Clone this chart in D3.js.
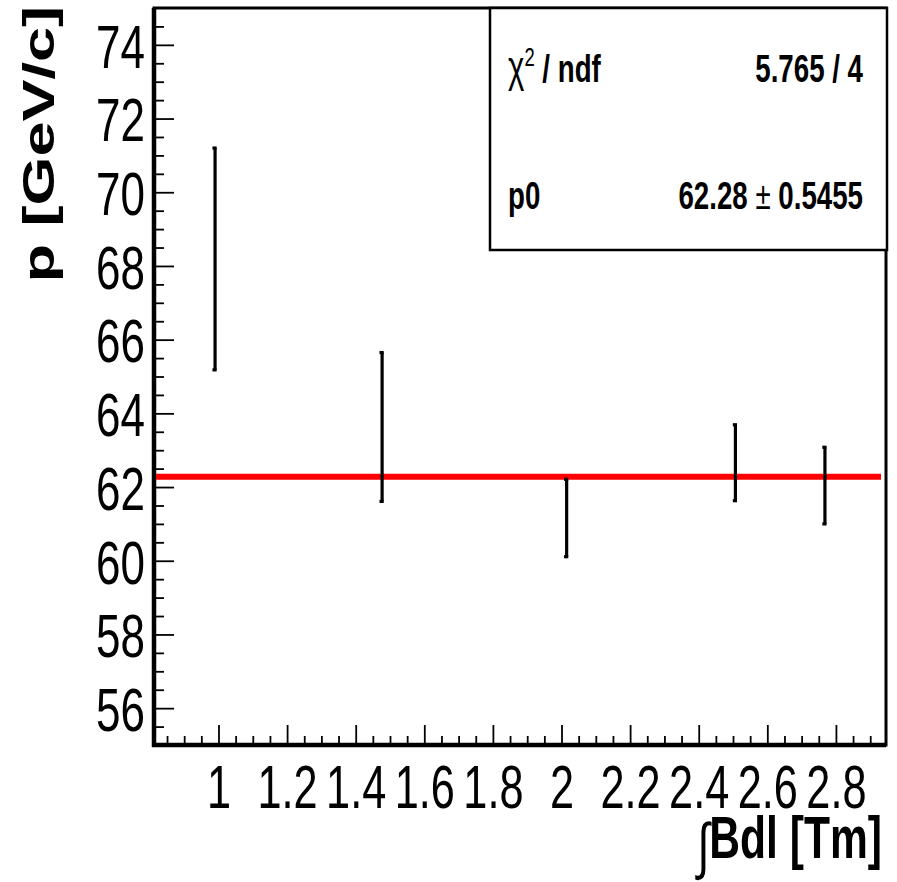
<!DOCTYPE html>
<html>
<head>
<meta charset="utf-8">
<script src="https://cdn.jsdelivr.net/npm/d3@7"></script>
<style>
  body { margin: 0; background: #fff; }
  svg { display: block; font-family: "Liberation Sans", Arial, sans-serif; }
</style>
</head>
<body>
<div id="chart"></div>
<script>
// Measured points: field integral vs reconstructed momentum
const bdlValues = [0.99, 1.477, 2.015, 2.507, 2.768];
const momentumValues = [68.19, 63.63, 61.16, 62.66, 62.04];
const momentumErrors = [3.01, 2.02, 1.05, 1.03, 1.04];

// Constant fit
const fitValue = 62.28;
const fitLabels = ['χ', '2', ' / ndf', '5.765 / 4', 'p0', '62.28 ', '±', ' 0.5455'];

// Axis ticks
const xTickValues = [1, 1.2, 1.4, 1.6, 1.8, 2, 2.2, 2.4, 2.6, 2.8];
const xTickLabels = ['1', '1.2', '1.4', '1.6', '1.8', '2', '2.2', '2.4', '2.6', '2.8'];
const yTickValues = [56, 58, 60, 62, 64, 66, 68, 70, 72, 74];
const yTickLabels = ['56', '58', '60', '62', '64', '66', '68', '70', '72', '74'];

const width = 897, height = 882;
const margin = { top: 8, right: 11, bottom: 137, left: 154 };
const squeeze = 0.71; // text in the picture is narrowed horizontally

const svg = d3.select('#chart')
    .append('svg')
    .attr('width', width)
    .attr('height', height);

const x = d3.scaleLinear()
    .domain([0.812, 2.946])
    .range([margin.left, width - margin.right]);

const y = d3.scaleLinear()
    .domain([55, 75])
    .range([height - margin.bottom, margin.top]);

const plotBottom = height - margin.bottom;

// helper: narrowed text anchored at (px, py)
function label(parent, px, py, extra) {
    return parent.append('text')
        .attr('transform', `translate(${px},${py}) scale(${squeeze},1)` + (extra || ''));
}

// Minor ticks
const xMinor = d3.range(0.85, 2.94, 0.05).filter(v => Math.abs(v * 5 - Math.round(v * 5)) > 1e-6);
const yMinor = d3.range(55.5, 75, 0.5).filter(v => Math.abs(v / 2 - Math.round(v / 2)) > 1e-6);

svg.append('g')
    .attr('transform', `translate(0,${plotBottom})`)
    .call(d3.axisBottom(x).tickValues(xMinor).tickSize(-9).tickFormat(''))
    .call(g => g.select('.domain').remove())
    .selectAll('line').attr('stroke', '#000').attr('stroke-width', 1.8);

svg.append('g')
    .attr('transform', `translate(${margin.left},0)`)
    .call(d3.axisLeft(y).tickValues(yMinor).tickSize(-10).tickFormat(''))
    .call(g => g.select('.domain').remove())
    .selectAll('line').attr('stroke', '#000').attr('stroke-width', 1.8);

// Major ticks
const xAxis = svg.append('g')
    .attr('transform', `translate(0,${plotBottom})`)
    .call(d3.axisBottom(x).tickValues(xTickValues).tickSize(-20).tickFormat((d, i) => xTickLabels[i]))
    .call(g => g.select('.domain').remove());
xAxis.selectAll('line').attr('stroke', '#000').attr('stroke-width', 1.8);
xAxis.selectAll('text')
    .attr('y', 0).attr('dy', 0)
    .attr('transform', `translate(0,63) scale(${squeeze},1)`)
    .attr('font-size', 61)
    .attr('fill', '#000')
    .attr('font-family', '"Liberation Sans", Arial, sans-serif');

const yAxis = svg.append('g')
    .attr('transform', `translate(${margin.left},0)`)
    .call(d3.axisLeft(y).tickValues(yTickValues).tickSize(-20).tickFormat((d, i) => yTickLabels[i]))
    .call(g => g.select('.domain').remove());
yAxis.selectAll('line').attr('stroke', '#000').attr('stroke-width', 1.8);
yAxis.selectAll('text')
    .attr('x', 0).attr('dy', '0.36em')
    .attr('transform', `translate(-9,0) scale(${squeeze},1)`)
    .attr('font-size', 62)
    .attr('fill', '#000')
    .attr('font-family', '"Liberation Sans", Arial, sans-serif');

// Frame
svg.append('rect')
    .attr('x', margin.left)
    .attr('y', margin.top)
    .attr('width', width - margin.left - margin.right)
    .attr('height', plotBottom - margin.top)
    .attr('fill', 'none')
    .attr('stroke', '#000')
    .attr('stroke-width', 3);
svg.append('line')
    .attr('x1', margin.left).attr('x2', margin.left)
    .attr('y1', margin.top).attr('y2', plotBottom + 2)
    .attr('stroke', '#000').attr('stroke-width', 4.5);
svg.append('line')
    .attr('x1', margin.left - 2).attr('x2', width - margin.right)
    .attr('y1', plotBottom).attr('y2', plotBottom)
    .attr('stroke', '#000').attr('stroke-width', 4.5);

// Fit line
svg.append('line')
    .attr('x1', x(0.812) + 2)
    .attr('x2', x(2.946) - 5)
    .attr('y1', y(fitValue))
    .attr('y2', y(fitValue))
    .attr('stroke', '#ff0000')
    .attr('stroke-width', 6);

// Error bars
const points = bdlValues.map((b, i) => ({ b, p: momentumValues[i], e: momentumErrors[i] }));
const bars = svg.append('g');
bars.selectAll('.err')
    .data(points)
    .enter()
    .append('line')
    .attr('class', 'err')
    .attr('x1', d => x(d.b)).attr('x2', d => x(d.b))
    .attr('y1', d => y(d.p + d.e)).attr('y2', d => y(d.p - d.e))
    .attr('stroke', '#000')
    .attr('stroke-width', 3.2);
bars.selectAll('.cap')
    .data(points.flatMap(d => [d.p + d.e, d.p - d.e].map(v => ({ b: d.b, v }))))
    .enter()
    .append('rect')
    .attr('class', 'cap')
    .attr('x', d => x(d.b) - 2.6)
    .attr('y', d => y(d.v) - 1.6)
    .attr('width', 4.2)
    .attr('height', 3.2)
    .attr('fill', '#000');

// Stats box
svg.append('rect')
    .attr('x', 490)
    .attr('y', margin.top)
    .attr('width', 397)
    .attr('height', 242)
    .attr('fill', '#fff')
    .attr('stroke', '#000')
    .attr('stroke-width', 2.5);

const chi = label(svg, 508, 82).attr('font-size', 39).attr('fill', '#000');
chi.append('tspan').attr('font-size', 44).text(fitLabels[0]);
chi.append('tspan').attr('font-size', 26).attr('dy', -16).text(fitLabels[1]);
chi.append('tspan').attr('font-weight', 'bold').attr('dy', 16).text(fitLabels[2]);

label(svg, 863, 82)
    .attr('text-anchor', 'end')
    .attr('font-size', 39)
    .attr('font-weight', 'bold')
    .text(fitLabels[3]);

label(svg, 508, 209)
    .attr('font-size', 39)
    .attr('font-weight', 'bold')
    .text(fitLabels[4]);

const p0 = label(svg, 863, 209)
    .attr('text-anchor', 'end')
    .attr('font-size', 39);
p0.append('tspan').attr('font-weight', 'bold').text(fitLabels[5]);
p0.append('tspan').text(fitLabels[6]);
p0.append('tspan').attr('font-weight', 'bold').text(fitLabels[7]);

// Axis titles
label(svg, 54, 6, ' rotate(-90)')
    .attr('text-anchor', 'end')
    .attr('font-size', 63)
    .attr('font-weight', 'bold')
    .text('p [GeV/c]');

const xt = label(svg, 882, 858)
    .attr('text-anchor', 'end')
    .attr('font-size', 60);
xt.append('tspan').attr('font-size', 62).attr('dy', 9).text('∫');
xt.append('tspan').attr('font-weight', 'bold').attr('dy', -9).text('Bdl [Tm]');
</script>
</body>
</html>
